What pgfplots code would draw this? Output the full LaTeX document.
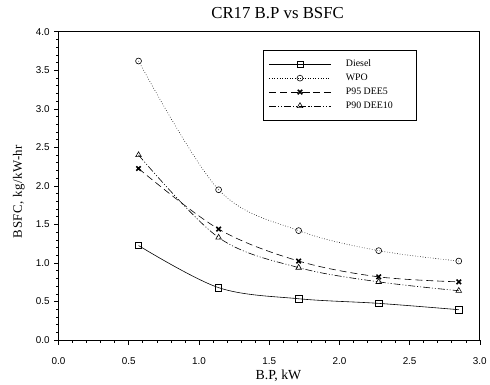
\documentclass[border=0pt]{standalone}
\usepackage{pgfplots}
\pgfplotsset{compat=1.18}
\usepackage{fontspec}
\setmainfont{Liberation Serif}
\newfontfamily\ticksans{Liberation Sans}
\newfontfamily\spacedserif[LetterSpace=4]{Liberation Serif}
\begin{document}
\begin{tikzpicture}
\begin{axis}[
  scale only axis,
  width=425bp, height=311bp,
  at={(0,0)}, anchor=south west,
  xmin=0, xmax=3, ymin=0, ymax=4,
  xtick={0,0.5,...,3}, ytick={0,0.5,...,4},
  minor tick num=4,
  tick align=outside,
  xtick pos=bottom, ytick pos=left,
  major tick length=4.5bp, minor tick length=2.5bp,
  tick style={black, line width=0.6pt},
  axis line style={line width=0.8pt},
  /pgf/number format/assume math mode=true,
  /pgf/number format/fixed, /pgf/number format/fixed zerofill, /pgf/number format/precision=1,
  ticklabel style={font=\ticksans\fontsize{10}{11}\selectfont},
  xticklabel style={yshift=-10bp},
  yticklabel style={xshift=-1bp},
  title={CR17 B.P vs BSFC},
  title style={font=\fontsize{17}{19}\selectfont, at={(axis description cs:0.52,1.0225)}, anchor=base},
  xlabel={B.P, kW},
  xlabel style={font=\fontsize{14}{16}\selectfont, at={(axis description cs:0.522,-0.128)}, anchor=base},
  ylabel={\spacedserif BSFC, kg/kW-hr},
  ylabel style={font=\fontsize{13}{15}\selectfont, at={(axis description cs:-0.094,0.482)}, anchor=center},
  legend style={at={(axis description cs:0.4847,0.942)}, anchor=north west,
    draw=black, line width=0.6pt, font=\fontsize{10}{11}\selectfont,
    inner xsep=6bp, inner ysep=8bp,
    nodes={inner sep=2bp, text height=7bp, text depth=2bp},
    row sep=1bp, column sep=13bp},
  legend cell align=left,
  legend image code/.code={\draw[mark repeat=2,mark phase=2] plot coordinates {(0bp,0bp)(31bp,0bp)(62bp,0bp)};},
  every axis plot/.append style={black, line width=0.6pt, smooth, tension=0.55},
]
\addplot[solid, mark=square, mark size=3.2pt, mark options={solid, fill=white}] coordinates {
 (0.57,1.226) (1.14,0.68) (1.71,0.536) (2.28,0.476) (2.85,0.394)};
\addlegendentry{\makebox[63bp][l]{Diesel}}
\addplot[dotted, mark=o, mark size=3pt, mark options={solid, fill=white}] coordinates {
 (0.57,3.62) (1.14,1.95) (1.71,1.42) (2.28,1.16) (2.85,1.025)};
\addlegendentry{\makebox[63bp][l]{WPO}}
\addplot[dash pattern=on 7bp off 4bp, mark=x, mark size=3.2pt, mark options={solid, line width=1.6pt}] coordinates {
 (0.57,2.225) (1.14,1.44) (1.71,1.025) (2.28,0.82) (2.85,0.755)};
\addlegendentry{\makebox[63bp][l]{P95 DEE5}}
\addplot[dash pattern=on 7bp off 2bp on 1bp off 2bp on 1bp off 2bp, mark=triangle, mark size=3.3pt, mark options={solid, fill=white}] coordinates {
 (0.57,2.40) (1.14,1.33) (1.71,0.94) (2.28,0.755) (2.85,0.64)};
\addlegendentry{\makebox[63bp][l]{P90 DEE10}}
\end{axis}
\path (-59bp,-44bp) rectangle (431bp,343bp);
\end{tikzpicture}
\end{document}
